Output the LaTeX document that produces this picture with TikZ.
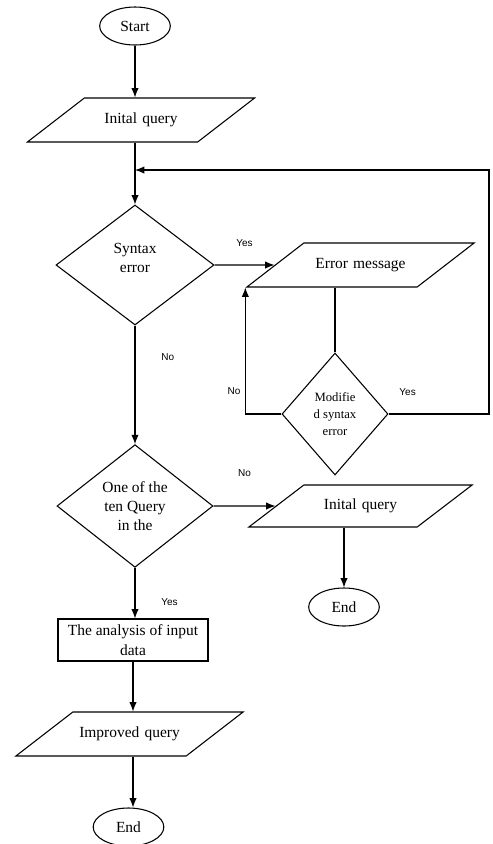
\documentclass[tikz,border=0pt]{standalone}
\usepackage{fontspec}
\setmainfont{Liberation Serif}
\newfontfamily\lblfont{Liberation Sans}
\usetikzlibrary{arrows.meta, shapes.geometric}

\begin{document}
\begin{tikzpicture}[>={Latex[length=7pt,width=5.5pt]}, x=0.75pt, y=-0.75pt, line width=0.8pt,
  font=\fontsize{11.6}{14.5}\selectfont,
  term/.style={ellipse, draw, minimum width=53pt, minimum height=28.5pt, inner sep=0pt},
  io/.style={trapezium, trapezium left angle=37.7, trapezium right angle=142.3, draw,
    text width=85pt, align=center, inner xsep=0pt, inner ysep=11pt, text height=8pt, text depth=3pt},
  dec/.style={diamond, draw, align=center, inner sep=0pt},
  proc/.style={rectangle, draw, align=center, minimum width=112.5pt, minimum height=31.5pt, inner sep=0pt},
  lbl/.style={font=\lblfont\fontsize{7.5}{9}\selectfont}]
\useasboundingbox (0,0) rectangle (493,844);

\node[term] (start) at (135,26) {Start};
\node[io] (q1) at (141,120) {Inital query};
\node[dec, minimum width=118.5pt, minimum height=90pt] (syn) at (135,265) {Syntax\\error\\[-4pt]};
\node[io] (err) at (360.5,265) {Error message};
\node[dec, minimum width=79.5pt, minimum height=91.5pt, font=\fontsize{9.5}{12.5}\selectfont] (mod) at (335,414) {Modifie\\d syntax\\error};
\node[dec, minimum width=117pt, minimum height=92pt] (ten) at (135,506) {One of the\\ten Query\\in the};
\node[io, inner ysep=10.25pt, trapezium left angle=37.4, trapezium right angle=142.6] (q2) at (360.5,506) {Inital query};
\node[term] (end1) at (344,607) {End};
\node[proc] (ana) at (133,640) {The analysis of input\\data};
\node[io] (imp) at (129.5,734) {Improved query};
\node[term] (end2) at (128.5,827) {End};
\coordinate (loop) at (489,170);

\draw[->] (start) -- (start |- q1.north);
\draw[->] (q1.south -| syn.north) -- (syn.north);
\draw[->] (syn.east) -- (err) node[lbl, midway, above=10pt] {Yes};
\draw[->] (syn.south) -- (ten.north) node[lbl, pos=0.27, right=16pt] {No};
\draw (mod.north) -- (mod.north |- err.south);
\draw[->] (mod.west) -| (err.bottom left corner) node[lbl, pos=0.59, left=0pt] {No};
\draw[->] (mod.east) -- (mod.east -| loop) node[lbl, pos=0.19, above=10pt] {Yes} -- (loop) -- (loop -| syn.north);
\draw[->] (ten.east) -- (q2) node[lbl, midway, above=18pt] {No};
\draw[->] (end1.north |- q2.south) -- (end1);
\draw[->] (ten.south) -- (ten.south |- ana.north) node[lbl, pos=0.67, right=16pt] {Yes};
\draw[->] (ana.south) -- (ana.south |- imp.north);
\draw[->] (imp.south -| ana.south) -- (ana.south |- end2.north);

\end{tikzpicture}
\end{document}
